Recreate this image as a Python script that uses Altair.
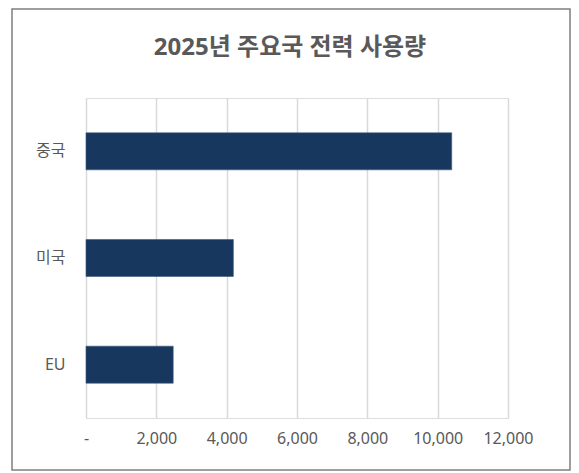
import altair as alt
import pandas as pd

countries = ["중국", "미국", "EU"]
usage = [10400, 4190, 2480]

df = pd.DataFrame({"country": countries, "usage": usage})

FONT = "'Noto Sans', 'Noto Sans CJK KR', sans-serif"
W, H = 422, 320

bars = alt.Chart(df).mark_bar(color="#17375e", stroke="#3d5a80", strokeWidth=0.6).encode(
    x=alt.X("usage:Q",
            scale=alt.Scale(domain=[0, 12000], nice=False),
            axis=alt.Axis(values=[0, 2000, 4000, 6000, 8000, 10000, 12000],
                          labelExpr="datum.value == 0 ? '-' : format(datum.value, ',')",
                          title=None, domain=False, ticks=False,
                          grid=True, gridColor="#d9d9d9", gridWidth=1.5,
                          labelOverlap=False, labelFlush=False, labelBound=False,
                          labelPadding=12, labelFontSize=16, labelColor="#595959",
                          labelFont=FONT)),
    y=alt.Y("country:N", sort=countries,
            scale=alt.Scale(paddingInner=0.653, paddingOuter=0.3265),
            axis=alt.Axis(title=None, domain=False, ticks=False, grid=False,
                          labelPadding=21, labelFontSize=16, labelColor="#595959",
                          labelFont=FONT)),
)

border = alt.Chart(df).mark_rect(fill=None, stroke="#7f7f7f", strokeWidth=1.5, clip=False).encode(
    x=alt.value(-74), x2=alt.value(W + 62), y=alt.value(-89), y2=alt.value(H + 52)
).transform_filter("datum.country == '중국'")

chart = alt.layer(bars, border).properties(
    width=W, height=H,
    title=alt.TitleParams("2025년 주요국 전력 사용량", font=FONT, fontSize=24,
                          fontWeight="bold", color="#595959", anchor="middle",
                          offset=-52, dx=-7),
    autosize=alt.AutoSizeParams(type="none"),
    padding={"left": 78, "top": 90, "right": 63, "bottom": 54},
).configure_view(stroke=None).configure(background="white")

chart.save("out.html", embed_options={"renderer": "svg", "actions": False})
